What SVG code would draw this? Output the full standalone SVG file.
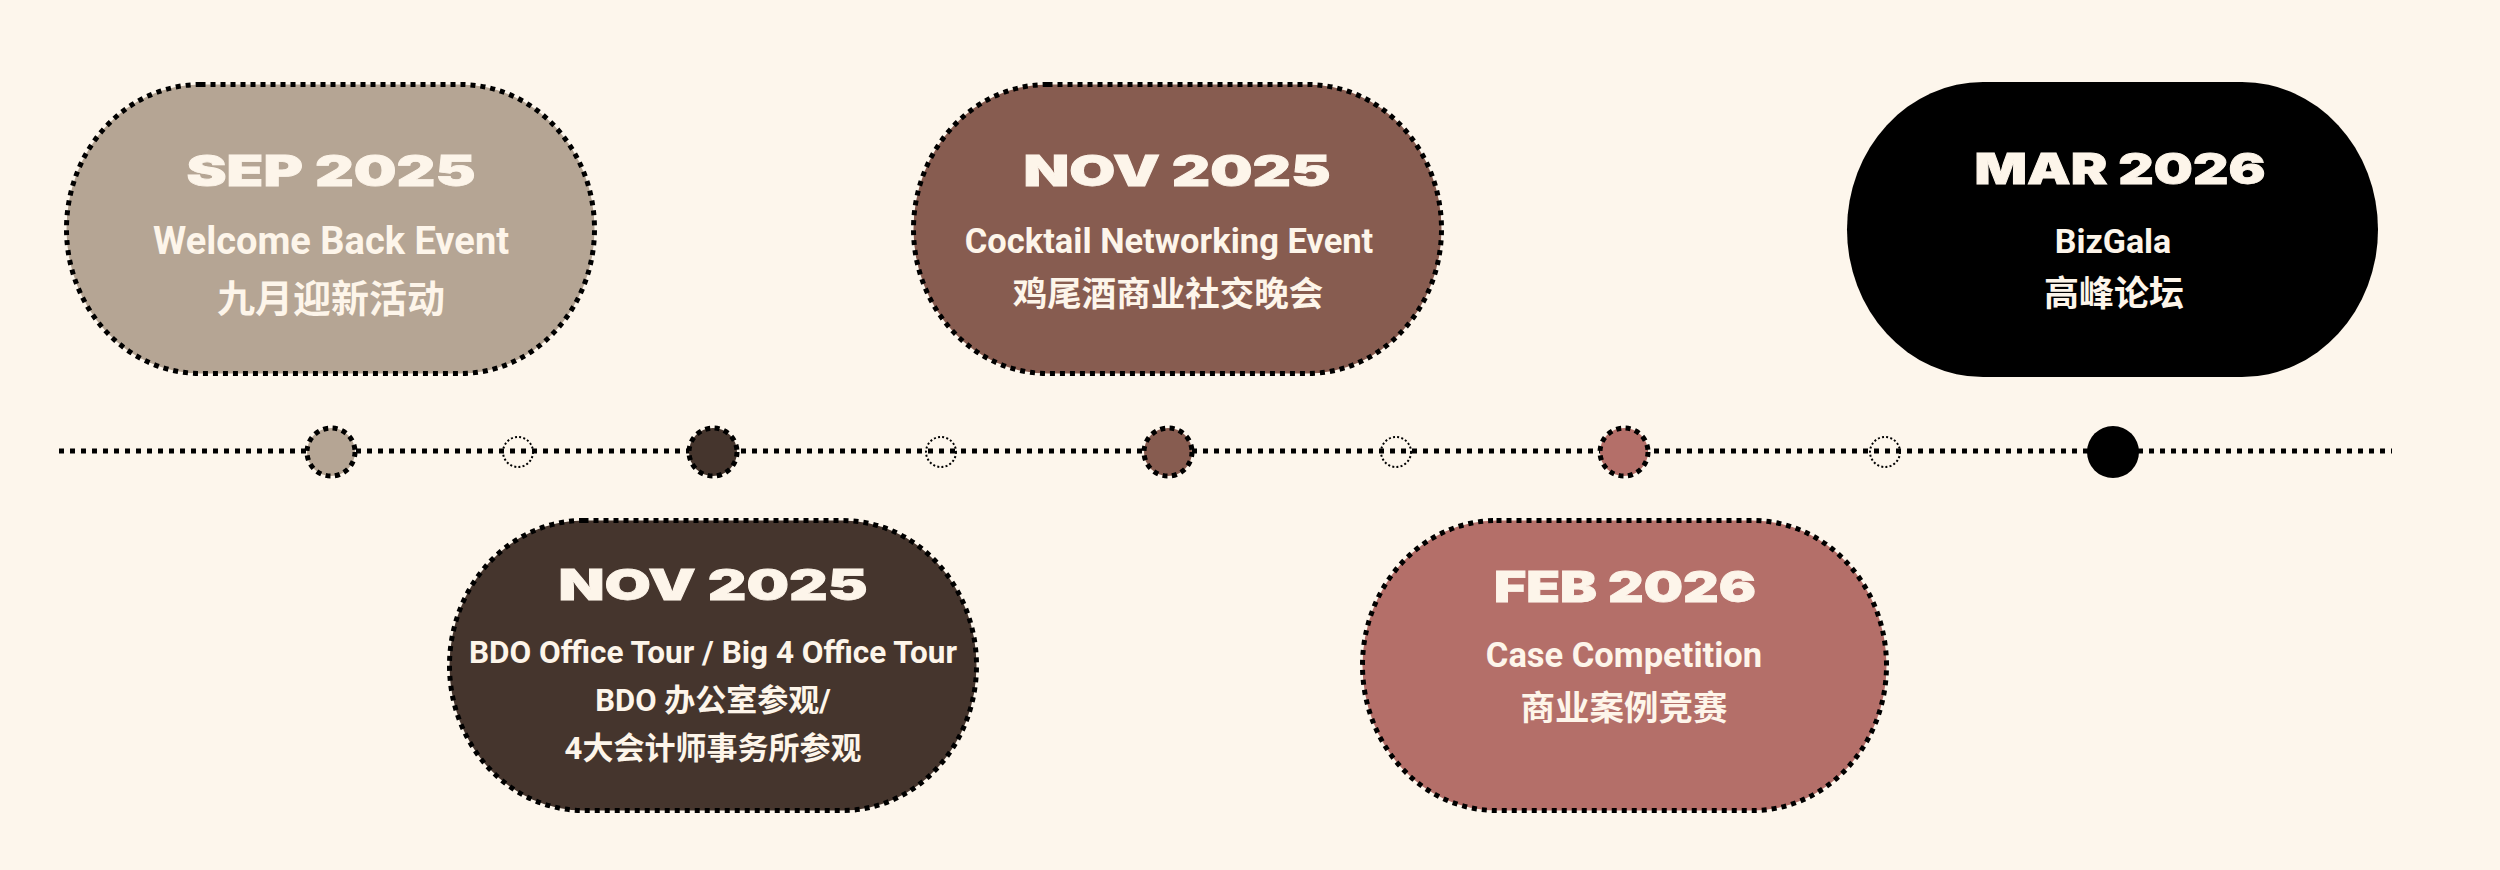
<svg xmlns="http://www.w3.org/2000/svg" width="2500" height="870" viewBox="0 0 2500 870">
<defs>
<style>
.bg{fill:#FDF6EC}
.pill{stroke:#000;stroke-width:5;stroke-dasharray:5 5}
.head{font-family:Inter,"DejaVu Sans",sans-serif;font-weight:900;font-size:42px;fill:#FDF5EA;stroke:#FDF5EA;stroke-width:0.8;text-anchor:middle}
.en{font-family:Roboto,"Liberation Sans",sans-serif;font-weight:700;fill:#FDF5EA;text-anchor:middle}
.zh{font-family:Roboto,"Noto Sans CJK SC",sans-serif;font-weight:700;fill:#FDF5EA;text-anchor:middle}
.line{stroke:#000;stroke-width:5;stroke-dasharray:5 6;fill:none}
.big{stroke:#000;stroke-width:5;stroke-dasharray:5 4.5}
.small{fill:none;stroke:#000;stroke-width:2;stroke-dasharray:2 2.2}
</style>
</defs>
<rect class="bg" x="0" y="0" width="2500" height="870"/>
<g id="connectors">
<line class="line" x1="59" y1="451" x2="2392" y2="451"/>
<circle class="big" cx="331" cy="452" r="24" fill="#B5A594"/>
<circle class="small" cx="518" cy="452" r="15"/>
<circle class="big" cx="713" cy="452" r="24" fill="#45352D"/>
<circle class="small" cx="941" cy="452" r="15"/>
<circle class="big" cx="1168" cy="452" r="24" fill="#875C50"/>
<circle class="small" cx="1396" cy="452" r="15"/>
<circle class="big" cx="1624" cy="452" r="24" fill="#B46F69"/>
<circle class="small" cx="1885" cy="452" r="15"/>
<circle cx="2113" cy="452" r="26" fill="#000"/>
</g>
<g id="node-sep2025">
<rect class="pill" x="66.5" y="84.5" width="528" height="289" rx="134" ry="144.5" fill="#B5A594"/>
<text class="head" x="331" y="186" textLength="289" lengthAdjust="spacingAndGlyphs">SEP 2025</text>
<text class="en" x="331" y="254" font-size="38">Welcome Back Event</text>
<text class="zh" x="331" y="312" font-size="38">九月迎新活动</text>
</g>
<g id="node-nov2025-cocktail">
<rect class="pill" x="913.5" y="84.5" width="528" height="289" rx="134" ry="144.5" fill="#875C50"/>
<text class="head" x="1177" y="186" textLength="307" lengthAdjust="spacingAndGlyphs">NOV 2025</text>
<text class="en" x="1169" y="253" font-size="34.5">Cocktail Networking Event</text>
<text class="zh" x="1168" y="306" font-size="34.5">鸡尾酒商业社交晚会</text>
</g>
<g id="node-mar2026">
<rect x="1847" y="82" width="531" height="295" rx="136" ry="147.5" fill="#000"/>
<text class="head" x="2120" y="184" textLength="291" lengthAdjust="spacingAndGlyphs">MAR 2026</text>
<text class="en" x="2113" y="253" font-size="34">BizGala</text>
<text class="zh" x="2114" y="306" font-size="35">高峰论坛</text>
</g>
<g id="node-nov2025-office">
<rect class="pill" x="449.5" y="520.5" width="527" height="290" rx="134" ry="145" fill="#45352D"/>
<text class="head" x="713" y="600" textLength="309" lengthAdjust="spacingAndGlyphs">NOV 2025</text>
<text class="en" x="713" y="663" font-size="31.5">BDO Office Tour / Big 4 Office Tour</text>
<text class="zh" x="713" y="711" font-size="31">BDO 办公室参观/</text>
<text class="zh" x="713" y="759" font-size="31">4大会计师事务所参观</text>
</g>
<g id="node-feb2026">
<rect class="pill" x="1362.5" y="520.5" width="524" height="290" rx="134" ry="145" fill="#B46F69"/>
<text class="head" x="1625" y="602" textLength="262" lengthAdjust="spacingAndGlyphs">FEB 2026</text>
<text class="en" x="1624" y="667" font-size="34.5">Case Competition</text>
<text class="zh" x="1624" y="720" font-size="34.5">商业案例竞赛</text>
</g>
</svg>
